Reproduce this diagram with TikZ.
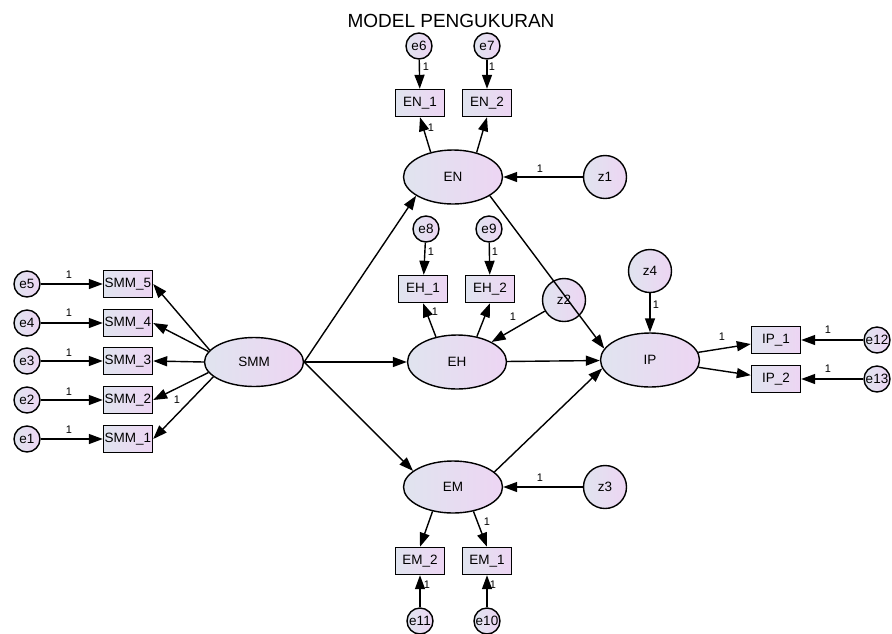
\documentclass[tikz,border=0pt]{standalone}
\usepackage{fontspec}
\setmainfont{Liberation Sans}
\usetikzlibrary{arrows.meta,shapes.geometric}
\definecolor{fillL}{HTML}{E0E4EF}
\definecolor{fillR}{HTML}{EDD5F3}
\begin{document}
\begin{tikzpicture}[x=1pt,y=-1pt,
 base/.style={draw=black, line width=1.4pt, left color=fillL, right color=fillR, inner sep=0pt, font=\fontsize{13.5}{13.5}\selectfont},
 lat/.style={base, ellipse, minimum width=99pt, minimum height=54pt},
 obs/.style={base, rectangle, minimum width=49pt, minimum height=27pt},
 err/.style={base, circle, minimum size=26pt},
 dist/.style={base, circle, minimum size=43pt},
 arr/.style={line width=1.4pt, -{Triangle[length=14pt,width=10pt]}},
 one/.style={inner sep=0pt, font=\fontsize{11}{11}\selectfont}
]
\useasboundingbox (0,0) rectangle (892,633);
\node[font=\fontsize{19}{19}\selectfont] (title) at (451,21) {MODEL PENGUKURAN};

% EN block
\node[err] (e6) at (419,46) {e6};
\node[err] (e7) at (487,46) {e7};
\node[obs] (EN1) at (420,103) {EN\_1};
\node[obs] (EN2) at (487,103) {EN\_2};
\node[lat] (EN) at (453,177) {EN};
\node[dist] (z1) at (605,177) {z1};

% EH block
\node[err] (e8) at (426,229) {e8};
\node[err] (e9) at (489,229) {e9};
\node[obs] (EH1) at (423,289) {EH\_1};
\node[obs] (EH2) at (490,289) {EH\_2};
\node[lat] (EH) at (457,362) {EH};
\node[dist] (z2) at (564,300) {z2};

% IP block
\node[dist] (z4) at (650,271) {z4};
\node[lat] (IP) at (650,360) {IP};
\node[obs] (IP1) at (776,340) {IP\_1};
\node[obs] (IP2) at (776,379) {IP\_2};
\node[err] (e12) at (877,340) {e12};
\node[err] (e13) at (877,379) {e13};

% EM block
\node[lat, minimum height=52pt] (EM) at (453,487) {EM};
\node[dist] (z3) at (605,487) {z3};
\node[obs] (EM2) at (420,561) {EM\_2};
\node[obs] (EM1) at (487,561) {EM\_1};
\node[err] (e11) at (420,621) {e11};
\node[err] (e10) at (487,621) {e10};

% SMM block
\node[lat, minimum height=49pt] (SMM) at (254,362) {SMM};
\node[obs] (S5) at (128,284) {SMM\_5};
\node[obs] (S4) at (128,323) {SMM\_4};
\node[obs] (S3) at (128,361) {SMM\_3};
\node[obs] (S2) at (128,400) {SMM\_2};
\node[obs] (S1) at (128,439) {SMM\_1};
\node[err] (e5) at (27,284) {e5};
\node[err] (e4) at (27,323) {e4};
\node[err] (e3) at (27,361) {e3};
\node[err] (e2) at (27,400) {e2};
\node[err] (e1) at (27,439) {e1};

% arrows EN
\draw[arr] (e6) -- (EN1);
\draw[arr] (e7) -- (EN2);
\draw[arr] (EN.132) -- (EN1.south);
\draw[arr] (EN.46) -- (EN2.south);
\draw[arr] (z1) -- (EN);
% arrows EH
\draw[arr] (e8) -- (EH1);
\draw[arr] (e9) -- (EH2);
\draw[arr] (EH.130) -- (EH1.south);
\draw[arr] (EH.52) -- (EH2.south);
\draw[arr] (z2) -- (EH);
% arrows EM
\draw[arr] (EM.-130) -- (EM2.north);
\draw[arr] (EM.-50) -- (EM1.north);
\draw[arr] (e11) -- (EM2);
\draw[arr] (e10) -- (EM1);
\draw[arr] (z3) -- (EM);
% structural
\draw[arr] (SMM.east) -- (EN.-153);
\draw[arr] (SMM.east) -- (EH.west);
\draw[arr] (SMM.east) -- (EM.158);
\draw[arr] (EN.-27) -- (IP.166);
\draw[arr] (EH) -- (IP);
\draw[arr] (EM.20) -- (IP.190);
\draw[arr] (z4) -- (IP);
% IP
\draw[arr] (IP) -- (IP1);
\draw[arr] (IP) -- (IP2);
\draw[arr] (e12) -- (IP1);
\draw[arr] (e13) -- (IP2);
% SMM
\draw[arr] (SMM.165) -- (S5.east);
\draw[arr] (SMM.167) -- (S4.east);
\draw[arr] (SMM.west) -- (S3.east);
\draw[arr] (SMM.193) -- (S2.east);
\draw[arr] (SMM.200) -- (S1.east);
\draw[arr] (e5) -- (S5);
\draw[arr] (e4) -- (S4);
\draw[arr] (e3) -- (S3);
\draw[arr] (e2) -- (S2);
\draw[arr] (e1) -- (S1);

% labels
\node[one] (l6) at (426,67) {1};
\node[one] (l7) at (492,67) {1};
\node[one] (lEN1) at (431,128) {1};
\node[one] (lz1) at (540,169) {1};
\node[one] (l8) at (431,252) {1};
\node[one] (l9) at (495,252) {1};
\node[one] (lEH1) at (435,312) {1};
\node[one] (lz2) at (513,317) {1};
\node[one] (lz4) at (656,305) {1};
\node[one] (lIP1) at (722,337) {1};
\node[one] (l12) at (828,330) {1};
\node[one] (l13) at (828,369) {1};
\node[one] (lz3) at (540,478) {1};
\node[one] (lEM1) at (487,522) {1};
\node[one] (l11) at (427,585) {1};
\node[one] (l10) at (493,585) {1};
\node[one] (lS1) at (177,400) {1};
\node[one] (l5) at (69,275) {1};
\node[one] (l4) at (69,313) {1};
\node[one] (l3) at (69,353) {1};
\node[one] (l2) at (69,392) {1};
\node[one] (l1) at (69,430) {1};
\end{tikzpicture}
\end{document}
